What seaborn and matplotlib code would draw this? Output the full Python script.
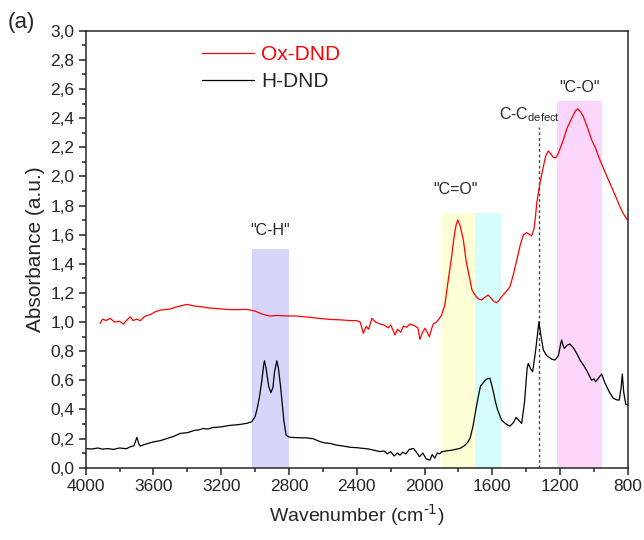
import numpy as np
import pandas as pd
import seaborn as sns
import matplotlib.pyplot as plt
from matplotlib.ticker import MultipleLocator, FuncFormatter

# H-DND spectrum (wavenumber, absorbance)
h_wn = [4000, 3960, 3930, 3900, 3870, 3836, 3800, 3760, 3737, 3715, 3698, 3685, 3678, 3650,
        3620, 3600, 3560, 3520, 3480, 3442, 3400, 3360, 3330, 3305, 3280, 3250, 3200, 3150,
        3100, 3049, 3020, 3000, 2990, 2975, 2960, 2950, 2945, 2935, 2920, 2907, 2895, 2885,
        2872, 2862, 2850, 2842, 2830, 2817, 2800, 2774, 2740, 2700, 2656, 2620, 2590, 2557,
        2520, 2480, 2440, 2400, 2361, 2330, 2300, 2263, 2240, 2220, 2200, 2180, 2160, 2145,
        2130, 2110, 2090, 2066, 2050, 2030, 2010, 1990, 1968, 1955, 1940, 1925, 1910, 1899,
        1870, 1840, 1820, 1791, 1765, 1745, 1732, 1715, 1700, 1683, 1670, 1655, 1643, 1630,
        1614, 1600, 1590, 1584, 1570, 1560, 1545, 1520, 1496, 1475, 1460, 1440, 1427, 1410,
        1395, 1388, 1375, 1362, 1345, 1332, 1325, 1315, 1299, 1280, 1250, 1230, 1210, 1195,
        1191, 1180, 1175, 1160, 1142, 1120, 1100, 1083, 1060, 1040, 1014, 1000, 990, 970,
        955, 935, 910, 886, 865, 851, 840, 833, 825, 813, 800]
h_abs = [0.13, 0.128, 0.135, 0.127, 0.131, 0.125, 0.135, 0.13, 0.143, 0.15, 0.207, 0.16, 0.148, 0.16,
         0.17, 0.177, 0.185, 0.2, 0.215, 0.235, 0.24, 0.255, 0.26, 0.269, 0.265, 0.275, 0.28, 0.29,
         0.295, 0.304, 0.315, 0.35, 0.395, 0.48, 0.6, 0.7, 0.734, 0.68, 0.56, 0.514, 0.55, 0.66,
         0.734, 0.68, 0.56, 0.464, 0.32, 0.223, 0.21, 0.207, 0.205, 0.205, 0.198, 0.18, 0.17, 0.166,
         0.155, 0.148, 0.14, 0.137, 0.132, 0.128, 0.12, 0.11, 0.115, 0.095, 0.11, 0.08, 0.1, 0.086,
         0.105, 0.095, 0.125, 0.132, 0.11, 0.075, 0.1, 0.06, 0.052, 0.09, 0.065, 0.1, 0.095, 0.109,
         0.115, 0.12, 0.125, 0.132, 0.15, 0.175, 0.2, 0.28, 0.38, 0.487, 0.56, 0.58, 0.6, 0.61,
         0.613, 0.55, 0.5, 0.464, 0.4, 0.37, 0.326, 0.3, 0.285, 0.31, 0.345, 0.32, 0.304, 0.45,
         0.68, 0.716, 0.68, 0.659, 0.8, 0.93, 1.002, 0.92, 0.808, 0.77, 0.745, 0.739, 0.77, 0.86,
         0.876, 0.83, 0.819, 0.84, 0.849, 0.82, 0.78, 0.739, 0.7, 0.66, 0.6, 0.61, 0.59, 0.62,
         0.643, 0.58, 0.52, 0.476, 0.465, 0.464, 0.55, 0.643, 0.52, 0.436, 0.43]

# Ox-DND spectrum
ox_wn = [3915, 3900, 3880, 3855, 3830, 3800, 3777, 3760, 3737, 3720, 3700, 3678, 3650, 3620,
         3590, 3560, 3530, 3500, 3460, 3403, 3360, 3320, 3280, 3246, 3200, 3150, 3100, 3049,
         3000, 2960, 2930, 2911, 2870, 2820, 2754, 2700, 2660, 2617, 2560, 2500, 2440, 2400,
         2380, 2361, 2345, 2330, 2311, 2290, 2263, 2240, 2215, 2200, 2174, 2160, 2140, 2125,
         2105, 2086, 2060, 2040, 2027, 2012, 1997, 1985, 1972, 1960, 1948, 1930, 1915, 1899,
         1880, 1860, 1840, 1826, 1815, 1804, 1790, 1771, 1755, 1736, 1720, 1702, 1685, 1663,
         1645, 1624, 1605, 1590, 1574, 1560, 1545, 1525, 1510, 1496, 1475, 1456, 1435, 1417,
         1397, 1380, 1368, 1354, 1345, 1338, 1319, 1299, 1285, 1270, 1255, 1240, 1225, 1210,
         1181, 1160, 1131, 1110, 1096, 1080, 1063, 1040, 1014, 990, 965, 935, 906, 875,
         847, 825, 807, 800]
ox_abs = [0.99, 1.02, 1.01, 1.025, 1.0, 1.005, 0.986, 1.01, 1.036, 1.01, 1.02, 1.009, 1.04, 1.05,
          1.07, 1.082, 1.085, 1.09, 1.105, 1.121, 1.11, 1.105, 1.098, 1.094, 1.09, 1.085, 1.085, 1.087,
          1.075, 1.055, 1.045, 1.041, 1.045, 1.042, 1.041, 1.035, 1.03, 1.025, 1.018, 1.015, 1.01, 1.009,
          1.0, 0.922, 0.97, 0.95, 1.025, 1.0, 0.986, 0.98, 0.96, 0.98, 0.911, 0.95, 0.93, 0.972,
          0.965, 0.986, 0.975, 0.96, 0.881, 0.93, 0.957, 0.93, 0.899, 0.95, 0.986, 1.0, 1.02, 1.048,
          1.12, 1.289, 1.45, 1.586, 1.66, 1.701, 1.66, 1.564, 1.42, 1.311, 1.22, 1.186, 1.16, 1.151,
          1.17, 1.186, 1.16, 1.14, 1.133, 1.15, 1.174, 1.2, 1.22, 1.243, 1.33, 1.426, 1.53, 1.598,
          1.614, 1.6, 1.591, 1.64, 1.73, 1.816, 1.953, 2.067, 2.14, 2.175, 2.155, 2.13, 2.128, 2.16,
          2.251, 2.33, 2.4, 2.45, 2.464, 2.445, 2.411, 2.34, 2.251, 2.19, 2.113, 2.03, 1.953, 1.87,
          1.792, 1.74, 1.708, 1.7]

# shaded bands: (from, to, height, colour)
band_lo = [3020, 1900, 1700, 1220]
band_hi = [2800, 1700, 1550, 950]
band_top = [1.5, 1.75, 1.75, 2.52]
band_col = ['#d6d6fa', '#fdfdd6', '#d6fdfd', '#fdd6fd']

df = pd.concat([
    pd.DataFrame({'wn': ox_wn, 'A': ox_abs, 'sample': 'Ox-DND'}),
    pd.DataFrame({'wn': h_wn, 'A': h_abs, 'sample': 'H-DND'}),
])

sns.set_style('ticks')
plt.rcParams['font.family'] = ['Liberation Sans', 'DejaVu Sans']

fig = plt.figure(figsize=(6.44, 5.40), dpi=100)
ax = fig.add_axes([0.133, 0.134, 0.842, 0.809])

for lo, hi, top, c in zip(band_lo, band_hi, band_top, band_col):
    ax.fill_between([lo, hi], 0, top, color=c, lw=0, zorder=0)

ax.plot([1322, 1322], [0, 2.34], ls=(0, (2, 2)), color='#444444', lw=1.0, zorder=1)

sns.lineplot(data=df, x='wn', y='A', hue='sample', palette={'Ox-DND': 'red', 'H-DND': 'black'},
             sort=False, estimator=None, lw=0.9, ax=ax, zorder=2)

ax.set_xlim(4000, 800)
ax.set_ylim(0, 3.0)
ax.xaxis.set_major_locator(MultipleLocator(400))
ax.xaxis.set_minor_locator(MultipleLocator(200))
ax.yaxis.set_major_locator(MultipleLocator(0.2))
ax.yaxis.set_minor_locator(MultipleLocator(0.1))
ax.yaxis.set_major_formatter(FuncFormatter(lambda v, p: f'{v:.1f}'.replace('.', ',')))
ax.tick_params(which='major', direction='out', length=5, width=1.1, labelsize=12.5, pad=3)
ax.tick_params(which='minor', direction='out', length=3, width=1.1)
for s in ax.spines.values():
    s.set_linewidth(1.1)

ax.set_xlabel('Wavenumber (cm$^{\\text{-1}}$)', fontsize=14, labelpad=6)
ax.set_ylabel('Absorbance (a.u.)', fontsize=15, labelpad=4)

ax.text(2910, 1.63, '"C-H"', ha='center', va='center', fontsize=11.5)
ax.text(1815, 1.91, '"C=O"', ha='center', va='center', fontsize=11.5)
ax.text(1085, 2.61, '"C-O"', ha='center', va='center', fontsize=11.5)
ax.text(1380, 2.36, 'C-C$_{\\mathregular{defect}}$', ha='center', va='bottom', fontsize=11.5)
fig.text(0.012, 0.948, '(a)', fontsize=16)

ax.legend(loc='upper left', bbox_to_anchor=(0.18, 1.01), frameon=False, fontsize=15,
          handlelength=2.5, handletextpad=0.35, labelspacing=0.38)
leg = ax.get_legend()
leg.get_texts()[0].set_color('red')

fig.savefig('out.png', dpi=100)
